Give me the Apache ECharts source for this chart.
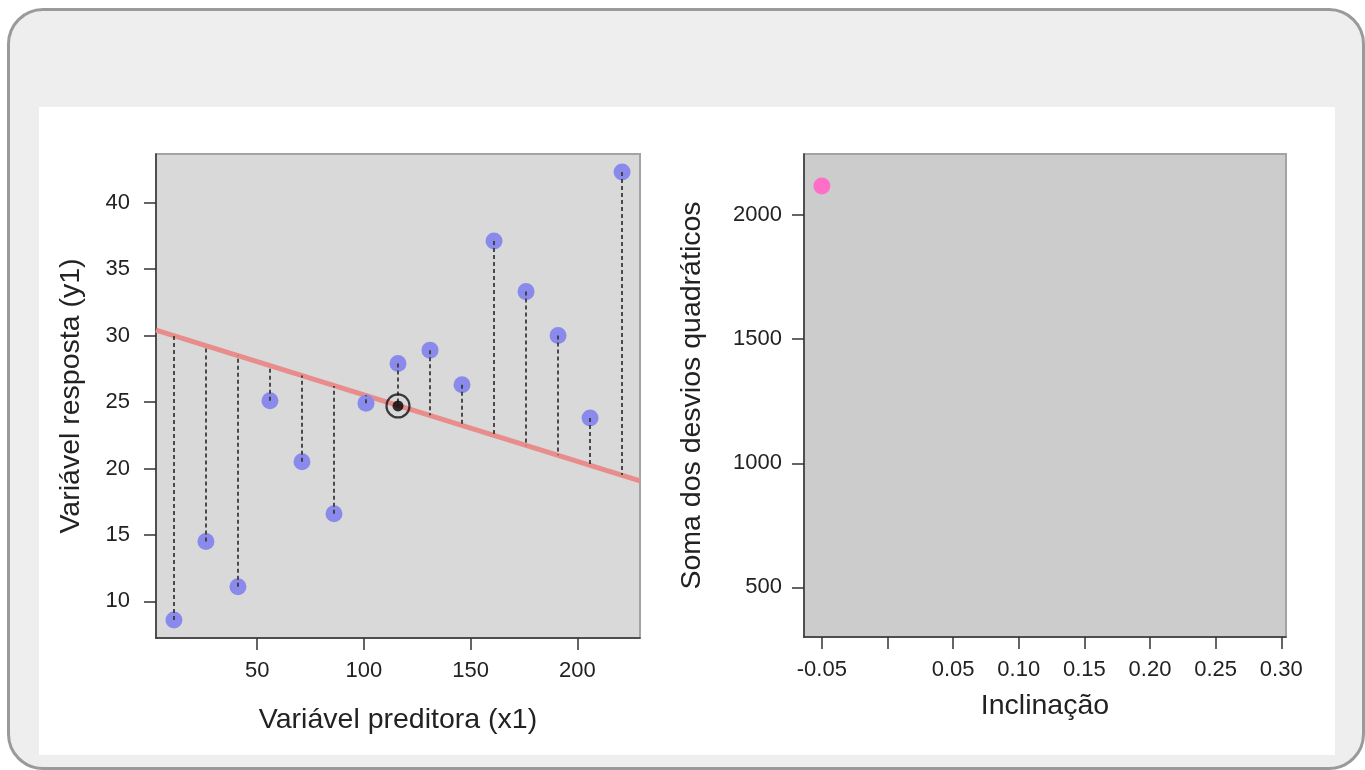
<!DOCTYPE html>
<html>
<head>
<meta charset="utf-8">
<title>Soma dos desvios quadráticos</title>
<script src="https://cdn.jsdelivr.net/npm/echarts@6/dist/echarts.min.js"></script>
<style>
	html, body { margin:0; padding:0; background:#ffffff; }
	#frame {
		position:absolute; left:7px; top:8px; width:1358px; height:762px;
		box-sizing:border-box; border:3px solid #9a9a9a; border-radius:36px;
		background:#eeeeee;
	}
	#panel { position:absolute; left:39px; top:107px; width:1296px; height:648px; background:#ffffff; }
	#chart { position:absolute; left:0; top:0; width:1365px; height:770px; }
</style>
</head>
<body>
<div id="frame"></div>
<div id="panel"></div>
<div id="chart"></div>
<script>
	//------------------------dados-inicio------------------//
	var predictorX = [11, 26, 41, 56, 71, 86, 101, 116, 131, 146, 161, 176, 191, 206, 221];
	var responseY  = [8.6, 14.5, 11.1, 25.1, 20.5, 16.6, 24.9, 27.9, 28.9, 26.3, 37.1, 33.3, 30.0, 23.8, 42.3];
	// onde cada traço tracejado encontra a reta
	var fittedY    = [30.0, 29.2, 28.5, 27.7, 27.0, 26.2, 25.5, 24.7, 24.0, 23.2, 22.5, 21.7, 21.0, 20.2, 19.5];
	var fitLineX   = [2.6, 229.4];
	var fitLineY   = [30.4, 19.06];
	var meanPoint  = [116, 24.7];

	var slopeTried = [-0.05];
	var sumSquares = [2117];

	var leftXTicks  = [50, 100, 150, 200];
	var leftYTicks  = [10, 15, 20, 25, 30, 35, 40];
	var rightXTicks = [-0.05, 0, 0.05, 0.10, 0.15, 0.20, 0.25, 0.30];
	var rightXLabels = [-0.05, 0.05, 0.10, 0.15, 0.20, 0.25, 0.30];
	var rightYTicks = [500, 1000, 1500, 2000];
	//------------------------dados-fim---------------------//

	var fontFam = "'Liberation Sans', Arial, Helvetica, sans-serif";
	var axisColor = '#333333';

	function plainNum(v)
	{
		return String(v);
	}

	function makeAxis(gridIndex, min, max, ticks, labels, name, nameGap, labelMargin, isY, fmt)
	{
		var ax = {
			type:'value',
			gridIndex:gridIndex,
			min:min,
			max:max,
			name:name,
			nameLocation:'middle',
			nameGap:nameGap,
			nameTextStyle:{ fontSize:28.5, color:'#222', fontFamily:fontFam },
			axisLine:{ show:true, onZero:false, lineStyle:{ color:axisColor, width:1.5 } },
			axisTick:{ show:true, inside:false, length:12, customValues:ticks, lineStyle:{ color:axisColor, width:1.5 } },
			axisLabel:{
				show:true, customValues:labels, margin:labelMargin,
				fontSize:22, color:'#222', fontFamily:fontFam,
				formatter:fmt || plainNum
			},
			splitLine:{ show:false }
		};
		if(isY) ax.nameRotate = 90;
		return ax;
	}

	function residualData()
	{
		var out = [];
		predictorX.forEach(function(x, i){
			out.push({ coords:[[x, responseY[i]], [x, fittedY[i]]] });
		});
		return out;
	}

	function pairs(xs, ys)
	{
		return xs.map(function(x, i){ return [x, ys[i]]; });
	}

	var option = {
		animation:false,
		grid:[
			{ left:156, top:154, width:484, height:484, show:true, backgroundColor:'#d9d9d9', borderColor:'#a3a3a3', borderWidth:2 },
			{ left:804, top:154, width:482, height:483, show:true, backgroundColor:'#cccccc', borderColor:'#a3a3a3', borderWidth:2 }
		],
		xAxis:[
			makeAxis(0, 2.6, 229.4, leftXTicks, leftXTicks, 'Variável preditora (x1)', 68, 22, false),
			makeAxis(1, -0.0636, 0.3036, rightXTicks, rightXLabels, 'Inclinação', 55, 22, false, function(v){ return v.toFixed(2); })
		],
		yAxis:[
			makeAxis(0, 7.25, 43.65, leftYTicks, leftYTicks, 'Variável resposta (y1)', 70, 26, true),
			makeAxis(1, 300, 2246, rightYTicks, rightYTicks, 'Soma dos desvios quadráticos', 97, 22, true)
		],
		series:[
			{
				name:'reta',
				type:'line',
				xAxisIndex:0, yAxisIndex:0,
				data:pairs(fitLineX, fitLineY),
				symbol:'none',
				lineStyle:{ color:'#e88c8c', width:5 },
				z:2, silent:true
			},
			{
				name:'pontos',
				type:'scatter',
				xAxisIndex:0, yAxisIndex:0,
				data:pairs(predictorX, responseY),
				symbolSize:17,
				itemStyle:{ color:'#8a8aec', opacity:1 },
				z:3
			},
			{
				name:'desvios',
				type:'lines',
				coordinateSystem:'cartesian2d',
				xAxisIndex:0, yAxisIndex:0,
				data:residualData(),
				lineStyle:{ color:'#3a3a3a', width:1.8, type:[4, 3], opacity:1 },
				z:4, silent:true
			},
			{
				name:'media anel',
				type:'scatter',
				xAxisIndex:0, yAxisIndex:0,
				data:[meanPoint],
				symbolSize:23,
				itemStyle:{ color:'rgba(0,0,0,0)', borderColor:'#111', borderWidth:2.2 },
				z:5
			},
			{
				name:'media',
				type:'scatter',
				xAxisIndex:0, yAxisIndex:0,
				data:[meanPoint],
				symbolSize:11,
				itemStyle:{ color:'#000' },
				z:6
			},
			{
				name:'sqd',
				type:'scatter',
				xAxisIndex:1, yAxisIndex:1,
				data:pairs(slopeTried, sumSquares),
				symbolSize:17,
				itemStyle:{ color:'#ff6ec7', opacity:1 },
				z:3
			}
		]
	};

	var myChart = echarts.init(document.getElementById('chart'), null, { renderer:'canvas' });
	myChart.setOption(option);
</script>
</body>
</html>
